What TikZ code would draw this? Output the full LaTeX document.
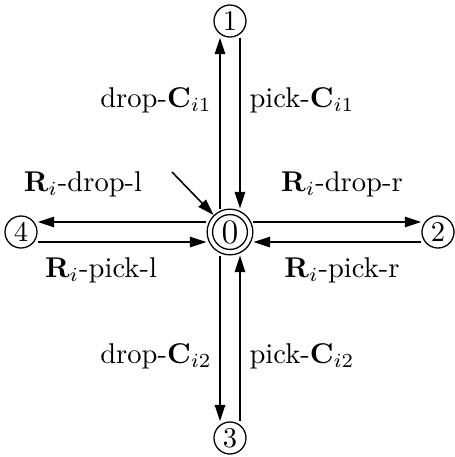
\documentclass[tikz,border=0pt]{standalone}
\usetikzlibrary{arrows.meta}
\begin{document}
\begin{tikzpicture}[x=0.35pt,y=-0.35pt,
  state/.style={circle,draw,line width=0.45pt,inner sep=0pt,minimum size=11.2pt},
  edge/.style={line width=0.7pt,-{Triangle[length=5.8pt,width=3.6pt]}},
  lbl/.style={inner sep=0pt}]
\useasboundingbox (0,0) rectangle (455,457);
\node[state,minimum size=16pt,font=\large] (n0) at (230,232) {0};
\draw[line width=0.45pt] (n0.center) circle[radius=6.1pt];
\node[state] (n1) at (230,21) {1};
\node[state] (n2) at (438,232) {2};
\node[state] (n3) at (230,438) {3};
\node[state] (n4) at (21,232) {4};
\coordinate (init) at (172,172);
\draw[edge,line width=0.55pt] (init) -- (n0);
% vertical up
\draw[edge] ([xshift=-3.5pt]n0.north) -- ([xshift=-3.5pt]n1.south);
\draw[edge] ([xshift=3.5pt]n1.south) -- ([xshift=3.5pt]n0.north);
% right
\draw[edge] ([yshift=3.5pt]n0.east) -- ([yshift=3.5pt]n2.west);
\draw[edge] ([yshift=-3.5pt]n2.west) -- ([yshift=-3.5pt]n0.east);
% left
\draw[edge] ([yshift=3.5pt]n0.west) -- ([yshift=3.5pt]n4.east);
\draw[edge] ([yshift=-3.5pt]n4.east) -- ([yshift=-3.5pt]n0.west);
% down
\draw[edge] ([xshift=-3.5pt]n0.south) -- ([xshift=-3.5pt]n3.north);
\draw[edge] ([xshift=3.5pt]n3.north) -- ([xshift=3.5pt]n0.south);
% labels
\node[lbl] (l1) at (156,100) {drop-$\mathbf{C}_{i1}$};
\node[lbl] (l2) at (302,100) {pick-$\mathbf{C}_{i1}$};
\node[lbl] (l3) at (83,184) {$\mathbf{R}_i$-drop-l};
\node[lbl] (l4) at (342,184) {$\mathbf{R}_i$-drop-r};
\node[lbl] (l5) at (101,270) {$\mathbf{R}_i$-pick-l};
\node[lbl] (l6) at (342,270) {$\mathbf{R}_i$-pick-r};
\node[lbl] (l7) at (156,356) {drop-$\mathbf{C}_{i2}$};
\node[lbl] (l8) at (302,356) {pick-$\mathbf{C}_{i2}$};
\end{tikzpicture}
\end{document}
